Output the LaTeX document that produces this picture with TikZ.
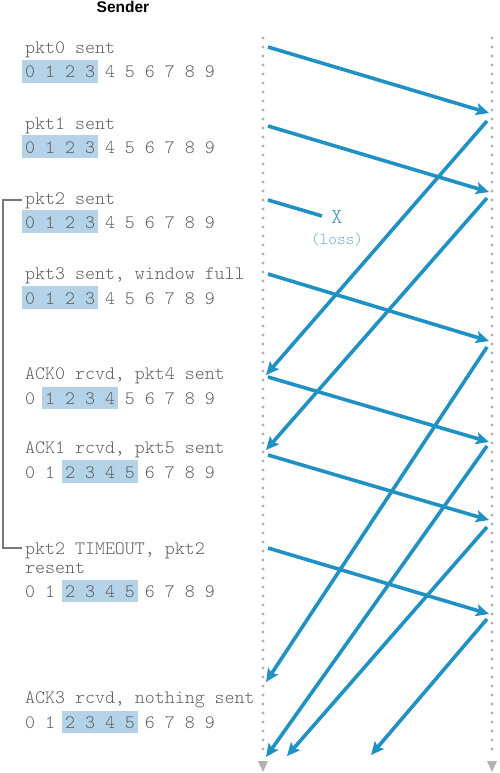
\documentclass[tikz,border=0pt]{standalone}
\usepackage{fontspec}
\usetikzlibrary{arrows.meta}
\newfontfamily\monof{Latin Modern Mono Light}
\newfontfamily\headf{Liberation Sans}
\definecolor{arrowblue}{RGB}{33,145,196}
\definecolor{hlblue}{RGB}{180,211,233}
\definecolor{txtgray}{RGB}{95,95,95}
\definecolor{dotgray}{RGB}{178,178,178}
\definecolor{lossblue}{RGB}{125,168,200}
\definecolor{xblue}{RGB}{60,140,190}
\definecolor{brgray}{RGB}{120,120,120}
\tikzset{
  mono/.style={font=\monof\fontsize{19}{19}\selectfont, text=txtgray, inner sep=0pt, anchor=base west, align=left},
  hl/.style={fill=hlblue},
  pkt/.style={draw=arrowblue, line width=3.6pt, -{Stealth[length=13pt,width=12pt,inset=2.5pt]}},
  lostpkt/.style={draw=arrowblue, line width=3.6pt},
  dotline/.style={draw=dotgray, line width=3.2pt, line cap=round, dash pattern=on 0pt off 9pt},
  bracketline/.style={draw=brgray, line width=1.2pt}
}
\begin{document}
\begin{tikzpicture}[x=1pt,y=-1pt]
\useasboundingbox (0,0) rectangle (499,773);

% title
\node[font=\headf\bfseries\fontsize{15.5}{18}\selectfont, inner sep=0pt, anchor=base] (title) at (123,13) {Sender};

% timelines
\coordinate (lt) at (263,38);
\coordinate (lb) at (263,755);
\coordinate (rt) at (492,38);
\coordinate (rb) at (492,755);
\draw[dotline] (lt) -- (lb);
\draw[dotline] (rt) -- (rb);
\fill[dotgray] (258,761) -- (268,761) -- (263,772) -- cycle;
\fill[dotgray] (487,761) -- (497,761) -- (492,772) -- cycle;

% highlight boxes
\fill[hl] (22,60) rectangle (98,83);
\fill[hl] (22,135) rectangle (98,158);
\fill[hl] (22,210) rectangle (98,233);
\fill[hl] (22,286) rectangle (98,309);
\fill[hl] (42,387) rectangle (118,409);
\fill[hl] (62,460) rectangle (138,483);
\fill[hl] (62,580) rectangle (138,602);
\fill[hl] (62,711) rectangle (138,733);

% texts
\node[mono] (h1) at (25,54) {pkt0 sent};
\node[mono] (d1) at (25,78) {0 1 2 3 4 5 6 7 8 9};
\node[mono] (h2) at (25,129) {pkt1 sent};
\node[mono] (d2) at (25,153) {0 1 2 3 4 5 6 7 8 9};
\node[mono] (h3) at (25,204) {pkt2 sent};
\node[mono] (d3) at (25,228) {0 1 2 3 4 5 6 7 8 9};
\node[mono] (h4) at (25,279) {pkt3 sent, window full};
\node[mono] (d4) at (25,304) {0 1 2 3 4 5 6 7 8 9};
\node[mono] (h5) at (25,379) {ACK0 rcvd, pkt4 sent};
\node[mono] (d5) at (25,404.5) {0 1 2 3 4 5 6 7 8 9};
\node[mono] (h6) at (25,453) {ACK1 rcvd, pkt5 sent};
\node[mono] (d6) at (25,478) {0 1 2 3 4 5 6 7 8 9};
\node[mono] (h7) at (25,554) {pkt2 TIMEOUT, pkt2};
\node[mono] (h7b) at (25,573) {resent};
\node[mono] (d7) at (25,597.5) {0 1 2 3 4 5 6 7 8 9};
\node[mono] (h8) at (25,703) {ACK3 rcvd, nothing sent};
\node[mono] (d8) at (25,728.5) {0 1 2 3 4 5 6 7 8 9};

% timeout bracket
\coordinate (bt) at (22,200);
\coordinate (bb) at (22,548);
\draw[bracketline] (bt) -| (3,548) -- (bb);

% loss marker
\node[font=\monof\fontsize{21}{21}\selectfont, text=xblue, inner sep=0pt] (x) at (337,217) {X};
\node[font=\monof\fontsize{16.5}{17}\selectfont, text=lossblue, inner sep=0pt] (loss) at (337,239) {(loss)};

% packet endpoints
\coordinate (p0s) at (268,47);  \coordinate (p0e) at (489,113);
\coordinate (p1s) at (268,126); \coordinate (p1e) at (489,192);
\coordinate (p2s) at (268,200); \coordinate (p2e) at (322,216);
\coordinate (p3s) at (268,274); \coordinate (p3e) at (489,341);
\coordinate (p4s) at (268,377); \coordinate (p4e) at (489,442);
\coordinate (p5s) at (268,455); \coordinate (p5e) at (489,520);
\coordinate (p6s) at (268,548); \coordinate (p6e) at (489,614);

% ack endpoints
\coordinate (a0s) at (487,121); \coordinate (a0e) at (266,375);
\coordinate (a1s) at (487,198); \coordinate (a1e) at (266,450);
\coordinate (a2s) at (487,347); \coordinate (a2e) at (266,682);
\coordinate (a3s) at (487,446); \coordinate (a3e) at (266,757);
\coordinate (a4s) at (487,527); \coordinate (a4e) at (287,756);
\coordinate (a5s) at (487,619); \coordinate (a5e) at (371,755);

% packets
\draw[pkt] (p0s) -- (p0e);
\draw[pkt] (p1s) -- (p1e);
\draw[lostpkt] (p2s) -- (p2e);
\draw[pkt] (p3s) -- (p3e);
\draw[pkt] (p4s) -- (p4e);
\draw[pkt] (p5s) -- (p5e);
\draw[pkt] (p6s) -- (p6e);

% acks
\draw[pkt] (a0s) -- (a0e);
\draw[pkt] (a1s) -- (a1e);
\draw[pkt] (a2s) -- (a2e);
\draw[pkt] (a3s) -- (a3e);
\draw[pkt] (a4s) -- (a4e);
\draw[pkt] (a5s) -- (a5e);
\end{tikzpicture}
\end{document}
